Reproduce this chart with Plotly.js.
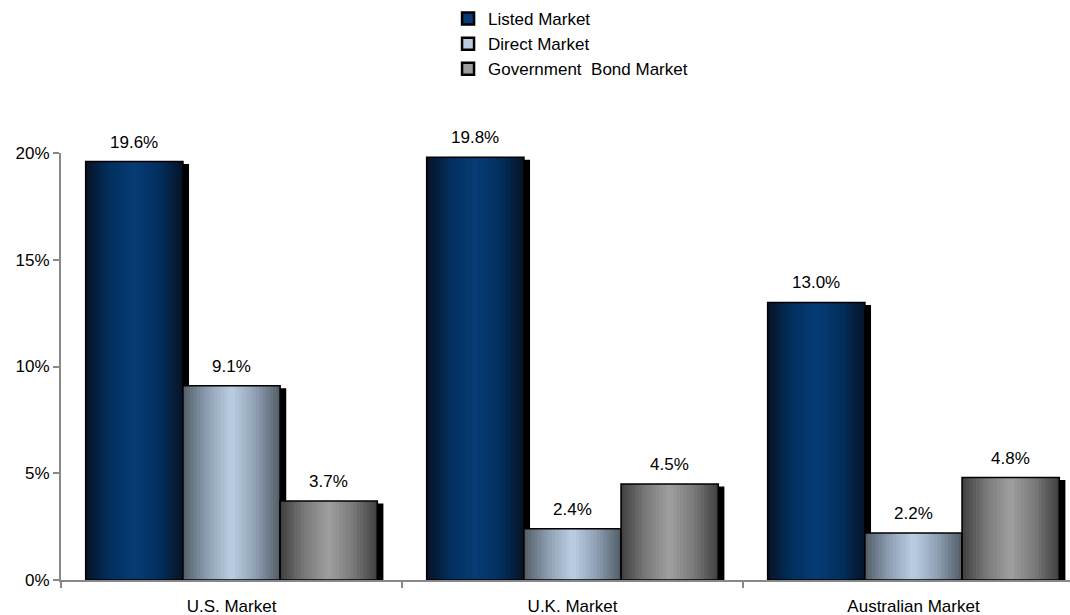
<!DOCTYPE html>
<html>
<head>
<meta charset="utf-8">
<script src="https://cdn.plot.ly/plotly-3.0.1.min.js"></script>
<style>html,body{margin:0;padding:0;background:#fff;}#chart{width:1070px;height:615px;}</style>
</head>
<body>
<div id="chart"></div>
<script>
// ---- data ----
var categories = ['U.S. Market', 'U.K. Market', 'Australian Market'];
var seriesNames = ['Listed Market', 'Direct Market', 'Government  Bond Market'];
var listedMarket = [0.196, 0.198, 0.130];
var directMarket = [0.091, 0.024, 0.022];
var govBondMarket = [0.037, 0.045, 0.048];
var yTickVals = [0, 0.05, 0.10, 0.15, 0.20];
var yTickText = ['0%', '5%', '10%', '15%', '20%'];

// ---- style ----
var FONT = 'Liberation Sans, Arial, sans-serif';
var BAR_W = 0.285;          // bar width in category units
var SHADOW_DX = 0.018;      // shadow shift right (category units)
var SHADOW_BASE = -0.0012;  // shadow base (slightly below zero)
var N_LAYERS = 14;
var palettes = [
  ['#07152a', '#02305f', '#063b73'],
  ['#56616c', '#8e9fb2', '#b9cbe0'],
  ['#444444', '#797979', '#9d9d9d']
];

function hex2rgb(h){ return [parseInt(h.substr(1,2),16), parseInt(h.substr(3,2),16), parseInt(h.substr(5,2),16)]; }
function lerp(a,b,t){ var A=hex2rgb(a), B=hex2rgb(b); return 'rgb(' + [0,1,2].map(function(i){return Math.round(A[i]+(B[i]-A[i])*t);}).join(',') + ')'; }
function gradColor(pal, p){ return p < 0.5 ? lerp(pal[0], pal[1], p/0.5) : lerp(pal[1], pal[2], (p-0.5)/0.5); }

var seriesValues = [listedMarket, directMarket, govBondMarket];
var xIdx = categories.map(function(c,i){ return i; });
var traces = [];

// legend entries (drawn on a hidden, out-of-view x axis so only the legend shows them)
seriesValues.forEach(function(vals, j){
  traces.push({
    type: 'bar', x: xIdx, y: vals, xaxis: 'x2', name: seriesNames[j], showlegend: true,
    marker: {color: palettes[j][2], line: {color: '#000', width: 2.5}},
    hoverinfo: 'skip'
  });
});

seriesValues.forEach(function(vals, j){
  var center = (j - 1) * BAR_W;
  // shadow
  traces.push({
    type: 'bar', x: xIdx, y: vals, base: SHADOW_BASE,
    width: BAR_W, offset: center - BAR_W/2 + SHADOW_DX,
    marker: {color: '#000', line: {width: 0}}, showlegend: false, hoverinfo: 'skip'
  });
  // gradient layers
  for (var k = 0; k < N_LAYERS; k++) {
    var wk = BAR_W * (1 - k / N_LAYERS);
    traces.push({
      type: 'bar', x: xIdx, y: vals,
      width: wk, offset: center - wk/2,
      marker: {color: gradColor(palettes[j], k / (N_LAYERS - 1)), line: {width: 0}},
      showlegend: false, hoverinfo: 'skip'
    });
  }
  // outline
  traces.push({
    type: 'bar', x: xIdx, y: vals, name: seriesNames[j],
    width: BAR_W, offset: center - BAR_W/2,
    marker: {color: 'rgba(0,0,0,0)', line: {color: '#000', width: 1.6}},
    showlegend: false
  });
});

var annotations = [];
seriesValues.forEach(function(vals, j){
  vals.forEach(function(v, i){
    annotations.push({
      xref: 'x', yref: 'y', x: i + (j - 1) * BAR_W, y: v,
      text: (v * 100).toFixed(1) + '%', showarrow: false,
      yanchor: 'bottom', yshift: 8,
      font: {family: FONT, size: 17, color: '#000'}
    });
  });
});

var layout = {
  width: 1070, height: 615,
  margin: {l: 61, r: 0, t: 153, b: 35, pad: 0},
  paper_bgcolor: '#fff', plot_bgcolor: '#fff',
  barmode: 'overlay',
  font: {family: FONT, size: 17, color: '#000'},
  showlegend: true,
  legend: {
    xref: 'paper', yref: 'paper', x: 0.3836, y: 1.356,
    xanchor: 'left', yanchor: 'top',
    font: {family: FONT, size: 17, color: '#000'},
    bgcolor: 'rgba(0,0,0,0)', traceorder: 'normal', tracegroupgap: 0
  },
  xaxis: {
    domain: [0, 1],
    range: [-0.5, 2.459], tickvals: xIdx, ticktext: categories,
    ticks: 'outside', ticklen: 10, tickcolor: 'rgba(0,0,0,0)',
    showline: true, linecolor: '#888', linewidth: 2,
    showgrid: false, zeroline: false, fixedrange: true,
    minor: {tickvals: [-0.5, 0.5, 1.5], ticks: 'outside', ticklen: 6, tickcolor: '#888', tickwidth: 2, showgrid: false}
  },
  xaxis2: {overlaying: 'x', range: [100, 101], visible: false, fixedrange: true},
  yaxis: {
    range: [0, 0.2], tickvals: yTickVals, ticktext: yTickText,
    ticks: 'outside', ticklen: 6, tickcolor: '#888', tickwidth: 2,
    showline: true, linecolor: '#888', linewidth: 2,
    showgrid: false, zeroline: false, fixedrange: true
  },
  annotations: annotations
};

Plotly.newPlot('chart', traces, layout, {displayModeBar: false, staticPlot: true});
</script>
</body>
</html>
